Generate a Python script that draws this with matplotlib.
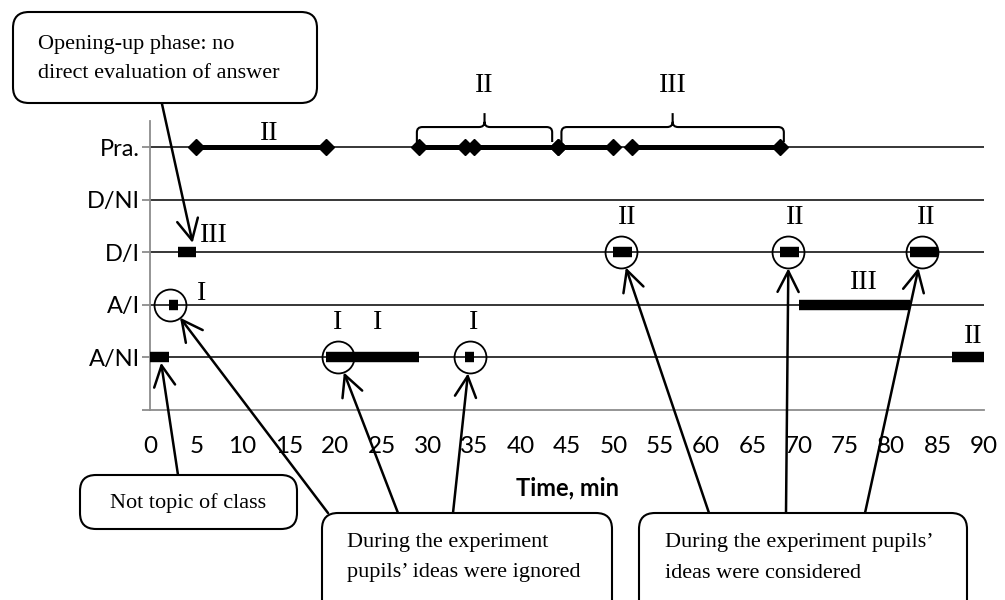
# -*- coding: utf-8 -*-
import numpy as np
import matplotlib
matplotlib.use('Agg')
import matplotlib.pyplot as plt
from matplotlib.patches import FancyBboxPatch, PathPatch
from matplotlib.path import Path

# categories (bottom -> top)
rows = ['A/NI', 'A/I', 'D/I', 'D/NI', 'Pra.']
xticks = list(range(0, 95, 5))

# practical work segments (min)
pra_start = [5, 29, 35, 44, 52]
pra_end   = [19, 34, 44, 50, 68]

# episode bars: row, start, end
bar_row   = ['A/NI', 'A/NI', 'A/NI', 'A/NI', 'A/I', 'A/I', 'D/I', 'D/I', 'D/I', 'D/I']
bar_start = [0,      19,     34,     86.5,   2,     70,    3,     50,    68,    82]
bar_end   = [2,      29,     35,     90,     3,     82,    5,     52,    70,    85]

# circled episodes
circ_row = ['A/I', 'A/NI', 'A/NI', 'D/I', 'D/I', 'D/I']
circ_t   = [2.2,   20.3,   34.5,   50.8,  68.9,  83.3]

# roman level labels: text, time, y
lab_txt = ['II', 'III', 'I', 'I', 'I', 'I', 'II', 'II', 'II', 'III', 'II']
lab_t   = [12.9, 6.9, 5.6, 20.2, 24.6, 34.9, 51.5, 69.6, 83.8, 77.0, 88.8]
lab_y   = [5.27, 3.33, 2.22, 1.66, 1.66, 1.66, 3.67, 3.67, 3.67, 2.43, 1.39]

# braces over Pra.
brace_start = [28.8, 44.4]
brace_end   = [43.4, 68.4]
brace_lab   = ['II', 'III']

SERIF = 'Liberation Serif'
SANS = 'Lato'

fig = plt.figure(figsize=(10.05, 6.0), dpi=100)
ax = fig.add_axes([150/1005, 190/600, 834/1005, 289/600])
ypos = {r: i + 1 for i, r in enumerate(rows)}

ax.set_xlim(0, 90)
ax.set_ylim(0, 5.5)
for r in rows:
    ax.plot([0, 90], [ypos[r]]*2, color='black', lw=1.1, zorder=1, solid_capstyle='butt')

for s in ['top', 'right']:
    ax.spines[s].set_visible(False)
for s in ['left', 'bottom']:
    ax.spines[s].set_color('#8c8c8c')
    ax.spines[s].set_linewidth(1.3)

ax.set_yticks([0] + [ypos[r] for r in rows])
ax.set_yticklabels([''] + rows, fontsize=17, fontfamily=SANS)
ax.tick_params(axis='y', length=6, width=1.3, color='#8c8c8c', pad=1)
ax.set_xticks(xticks)
ax.set_xticklabels([str(v) for v in xticks], fontsize=17.5, fontfamily=SANS)
ax.tick_params(axis='x', length=0, pad=19)
ax.set_xlabel('Time, min', fontsize=17, fontweight='bold', fontfamily=SANS, labelpad=14)

# practical line with diamonds
for a, b in zip(pra_start, pra_end):
    ax.plot([a, b], [ypos['Pra.']]*2, color='black', lw=3.6, zorder=3,
            marker='D', markersize=8, solid_capstyle='butt')

# bars
for r, a, b in zip(bar_row, bar_start, bar_end):
    ax.plot([a, b], [ypos[r]]*2, color='black', lw=7.5, zorder=3, solid_capstyle='butt',
            clip_on=False)

# circles
for r, t in zip(circ_row, circ_t):
    ax.plot(t, ypos[r], marker='o', markersize=23, markerfacecolor='none',
            markeredgecolor='black', markeredgewidth=1.3, zorder=4)

for s, t, y in zip(lab_txt, lab_t, lab_y):
    ax.text(t, y, s, fontsize=20, fontfamily=SERIF, ha='center', va='center', clip_on=False)

# braces (rounded corners)
yb, yl, yt = 5.10, 5.385, 5.65
rx, ry = 0.6, 0.1
for a, b, s in zip(brace_start, brace_end, brace_lab):
    m = (a + b) / 2
    verts = [(a, yb), (a, yl - ry), (a, yl), (a + rx, yl), (m - rx, yl), (m, yl), (m, yl + ry),
             (m, yt),
             (m, yl + ry), (m, yl), (m + rx, yl), (b - rx, yl), (b, yl), (b, yl - ry), (b, yb)]
    codes = [Path.MOVETO, Path.LINETO, Path.CURVE3, Path.CURVE3, Path.LINETO, Path.CURVE3, Path.CURVE3,
             Path.LINETO,
             Path.MOVETO, Path.CURVE3, Path.CURVE3, Path.LINETO, Path.CURVE3, Path.CURVE3, Path.LINETO]
    ax.add_patch(PathPatch(Path(verts, codes), fill=False, ec='black', lw=1.5, clip_on=False))
    ax.text(m, 6.18, s, fontsize=20, fontfamily=SERIF, ha='center', va='center', clip_on=False)

# overlay in pixel coordinates for callouts
ov = fig.add_axes([0, 0, 1, 1], zorder=10)
ov.set_xlim(0, 1005)
ov.set_ylim(600, 0)
ov.axis('off')
ov.patch.set_visible(False)


def box(x0, y0, x1, y1, lines, tx, ty, ha='left'):
    p = FancyBboxPatch((x0, y0), x1 - x0, y1 - y0,
                       boxstyle='round,pad=0,rounding_size=16',
                       fc='white', ec='black', lw=1.5, zorder=5)
    ov.add_patch(p)
    for i, ln in enumerate(lines):
        ov.text(tx, ty + i * 30, ln, fontsize=16, fontfamily=SERIF, ha=ha,
                va='center', zorder=6)


def arrow(t, r, px, py, shrink):
    ov.annotate('', xy=(t, r), xycoords=ax.transData, xytext=(px, py),
                textcoords=ov.transData,
                arrowprops=dict(arrowstyle='->,head_length=0.75,head_width=0.38',
                                lw=1.8, color='black', shrinkA=0, shrinkB=shrink,
                                mutation_scale=20),
                zorder=4)


box(13, 12, 317, 103, ['Opening-up phase: no', 'direct evaluation of answer'], 38, 44)
box(80, 475, 297, 529, ['Not topic of class'], 188, 503, ha='center')
box(322, 513, 612, 640, ['During the experiment', 'pupils\u2019 ideas were ignored'], 347, 543)
box(639, 513, 967, 640, ['During the experiment pupils\u2019', 'ideas were considered'], 665, 543)

arrow(4.6, 3.18, 162, 104, 0)
arrow(1.2, ypos['A/NI'] - 0.1, 178, 475, 0)
cr = 11.5
arrow(circ_t[0], ypos['A/I'], 328, 513, cr)
arrow(circ_t[1], ypos['A/NI'], 398, 513, cr)
arrow(circ_t[2], ypos['A/NI'], 453, 513, cr)
arrow(circ_t[3], ypos['D/I'], 709, 513, cr)
arrow(circ_t[4], ypos['D/I'], 786, 513, cr)
arrow(circ_t[5], ypos['D/I'], 865, 513, cr)

fig.savefig('out.png', dpi=100)
